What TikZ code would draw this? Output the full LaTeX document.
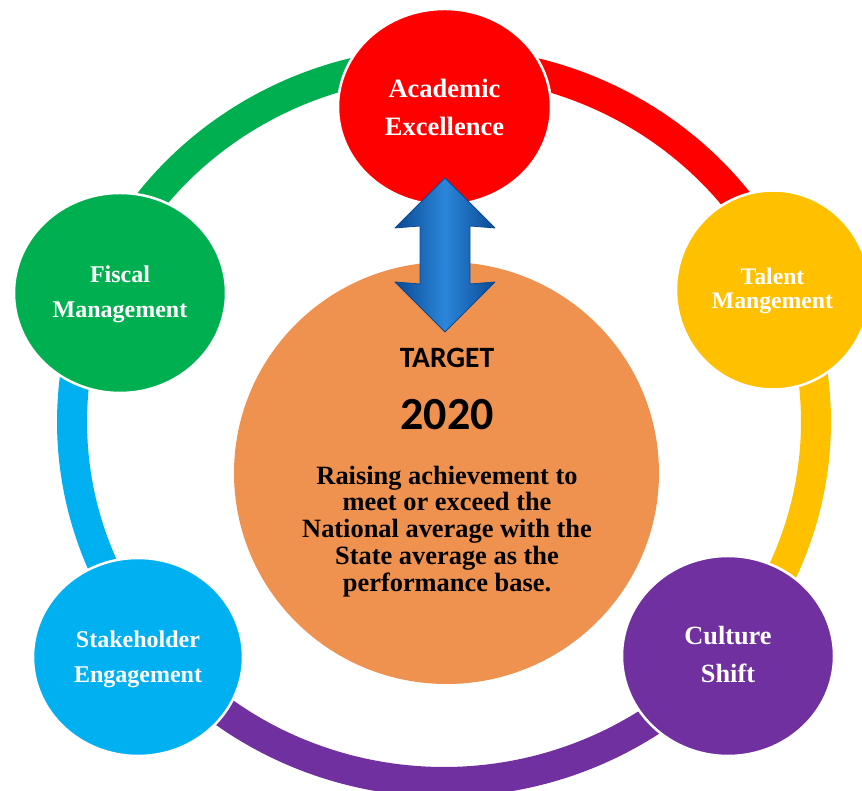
\documentclass[tikz,border=0pt]{standalone}
\usepackage{fontspec}
\setmainfont{Liberation Serif}
\newfontfamily\calibfont{Carlito}
\usetikzlibrary{shapes.geometric}
\definecolor{cRed}{HTML}{FF0000}
\definecolor{cYellow}{HTML}{FFC000}
\definecolor{cGreen}{HTML}{00B050}
\definecolor{cCyan}{HTML}{00B0F0}
\definecolor{cPurple}{HTML}{7030A0}
\definecolor{cOrange}{HTML}{F0924F}
\definecolor{arrowDark}{HTML}{0B4A95}
\definecolor{arrowMid}{HTML}{2B86DA}
\begin{document}
\begin{tikzpicture}[x=1pt,y=1pt,
  ringseg/.style={line width=30pt},
  bubble/.style={ellipse, draw=white, line width=2.5pt, inner sep=0pt},
  lab/.style={anchor=base, inner sep=0pt, text=white},
  bodytext/.style={anchor=base, inner sep=0pt, text=black, font=\bfseries\fontsize{26.4}{27}\selectfont}
]
\useasboundingbox (0,0) rectangle (862,791);
\clip (0,0) rectangle (862,791);

% outer ring segments
\coordinate (rc) at (444,369);
\draw[ringseg, cRed] (rc) ++(90:372pt and 360pt) arc[start angle=90, end angle=22.5, x radius=372pt, y radius=360pt];
\draw[ringseg, cYellow] (rc) ++(22.5:372pt and 360pt) arc[start angle=22.5, end angle=-40.4, x radius=372pt, y radius=360pt];
\draw[ringseg, cPurple] (rc) ++(-40.4:372pt and 360pt) arc[start angle=-40.4, end angle=-141.6, x radius=372pt, y radius=360pt];
\draw[ringseg, cCyan] (rc) ++(218.4:372pt and 360pt) arc[start angle=218.4, end angle=157.6, x radius=372pt, y radius=360pt];
\draw[ringseg, cGreen] (rc) ++(157.6:372pt and 360pt) arc[start angle=157.6, end angle=90, x radius=372pt, y radius=360pt];

% central circle
\node (target) [ellipse, fill=cOrange, inner sep=0pt, minimum width=425pt, minimum height=422pt] at (446.5,318) {};

% outer bubbles
\node (ae) [bubble, fill=cRed, minimum width=213pt, minimum height=196pt] at (444.5,684) {};
\node (tm) [bubble, fill=cYellow, minimum width=194pt, minimum height=199pt] at (773,501) {};
\node (cs) [bubble, fill=cPurple, minimum width=212pt, minimum height=200pt] at (728,135) {};
\node (se) [bubble, fill=cCyan, minimum width=210pt, minimum height=198pt] at (138,134) {};
\node (fm) [bubble, fill=cGreen, minimum width=212pt, minimum height=200pt] at (120,498) {};

% double arrow
\shade[left color=arrowDark, right color=arrowDark, middle color=arrowMid]
  (445,613) -- (495,563) -- (470,565) -- (470,507) -- (495,509) -- (445,459)
  -- (395,509) -- (420,507) -- (420,565) -- (395,563) -- cycle;
\draw[arrowDark, line width=0.8pt, line join=round]
  (445,613) -- (495,563) -- (470,565) -- (470,507) -- (495,509) -- (445,459)
  -- (395,509) -- (420,507) -- (420,565) -- (395,563) -- cycle;

% bubble labels
\node (ae1) [lab, font=\bfseries\fontsize{26.5}{30}\selectfont] at (444.5,693) {Academic};
\node (ae2) [lab, font=\bfseries\fontsize{26.5}{30}\selectfont] at (444.5,655) {Excellence};
\node (tm1) [lab, font=\bfseries\fontsize{23.7}{26}\selectfont] at (772.5,506) {Talent};
\node (tm2) [lab, font=\bfseries\fontsize{23.7}{26}\selectfont] at (772.5,482) {Mangement};
\node (cs1) [lab, font=\bfseries\fontsize{26.3}{30}\selectfont] at (728,146) {Culture};
\node (cs2) [lab, font=\bfseries\fontsize{26.3}{30}\selectfont] at (728,108) {Shift};
\node (se1) [lab, font=\bfseries\fontsize{24}{28}\selectfont] at (138,143) {Stakeholder};
\node (se2) [lab, font=\bfseries\fontsize{24}{28}\selectfont] at (138,108) {Engagement};
\node (fm1) [lab, font=\bfseries\fontsize{24}{28}\selectfont] at (120,508) {Fiscal};
\node (fm2) [lab, font=\bfseries\fontsize{24}{28}\selectfont] at (120,473) {Management};

% center texts
\node (tt) [anchor=base, inner sep=0pt, font=\calibfont\bfseries\fontsize{29.5}{32}\selectfont] at (447,423) {TARGET};
\node (ty) [anchor=base, inner sep=0pt, font=\calibfont\bfseries\fontsize{46}{50}\selectfont] at (447,361) {2020};
\node (b1) [bodytext] at (447,306) {Raising achievement to};
\node (b2) [bodytext] at (447,280) {meet or exceed the};
\node (b3) [bodytext] at (447,253) {National average with the};
\node (b4) [bodytext] at (447,226) {State average as the};
\node (b5) [bodytext] at (447,199) {performance base.};
\end{tikzpicture}
\end{document}
